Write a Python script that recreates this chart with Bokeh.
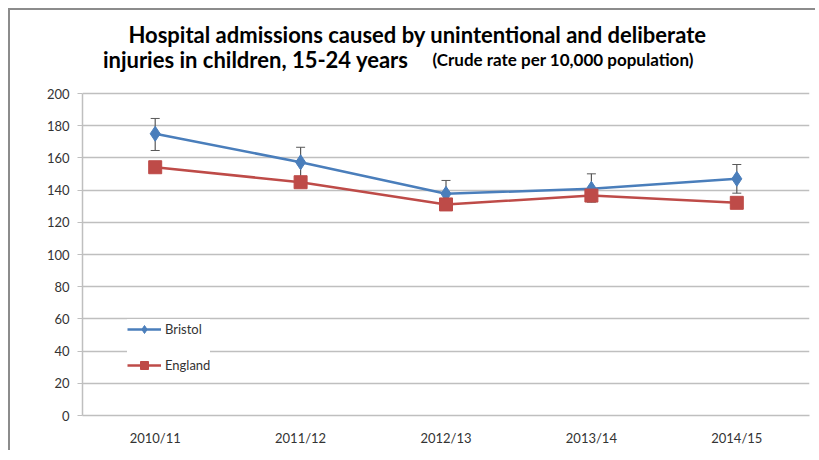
from bokeh.plotting import figure
from bokeh.models import (Range1d, FixedTicker, Label, Legend, LegendItem,
                          ColumnDataSource, Whisker)
from bokeh.embed import file_html
from bokeh.resources import INLINE

categories = ["2010/11", "2011/12", "2012/13", "2013/14", "2014/15"]
bristol = [175.0, 157.3, 137.7, 140.8, 147.0]
bristol_upper = [184.5, 166.6, 146.0, 150.1, 155.9]
bristol_lower = [164.6, 148.0, 129.4, 132.5, 138.1]
england = [154.2, 144.9, 131.1, 136.6, 132.1]
y_ticks = [0, 20, 40, 60, 80, 100, 120, 140, 160, 180, 200]

FONT = "Lato"
BLUE = "#4a7ebb"
RED = "#be4b48"
GRID = "#bfbfbf"
TXT = "#333333"

# frame extends above the 0-200 axis so the title labels can live inside it
p = figure(width=807, height=442, x_range=categories, y_range=Range1d(0, 242.24),
           output_backend="svg", toolbar_location=None,
           min_border_left=72, min_border_right=8, min_border_top=15, min_border_bottom=37)
p.styles = {"border-top": "2px solid #8c8c8c", "border-left": "2px solid #8c8c8c",
            "margin-top": "8px", "margin-left": "8px"}
p.outline_line_color = None
p.background_fill_color = "white"
p.border_fill_color = "white"

p.xaxis.major_tick_line_color = None
p.xaxis.axis_line_color = GRID
p.xaxis.axis_line_width = 1.5
p.xaxis.major_label_standoff = 8
p.xaxis.major_label_text_font = FONT
p.xaxis.major_label_text_font_size = "13px"
p.xaxis.major_label_text_color = TXT

p.yaxis.ticker = FixedTicker(ticks=y_ticks)
p.yaxis.bounds = (y_ticks[0], y_ticks[-1])
p.yaxis.axis_line_color = GRID
p.yaxis.axis_line_width = 1.5
p.yaxis.major_tick_line_color = GRID
p.yaxis.major_tick_in = 0
p.yaxis.major_tick_out = 5
p.yaxis.minor_tick_line_color = None
p.yaxis.major_label_text_font = FONT
p.yaxis.major_label_text_font_size = "13px"
p.yaxis.major_label_text_color = TXT
p.yaxis.major_label_standoff = 8

p.xgrid.grid_line_color = None
p.ygrid.ticker = FixedTicker(ticks=y_ticks)
p.ygrid.grid_line_color = GRID
p.ygrid.grid_line_width = 1.5

src = ColumnDataSource(dict(x=categories, b=bristol, up=bristol_upper, lo=bristol_lower, e=england))

wh = Whisker(source=src, base="x", upper="up", lower="lo", line_color="#595959", line_width=1.2)
wh.upper_head.size = 9
wh.lower_head.size = 9
wh.upper_head.line_color = "#595959"
wh.lower_head.line_color = "#595959"
p.add_layout(wh)

bl = p.line("x", "b", source=src, line_color=BLUE, line_width=2.5)
bm = p.scatter("x", "b", source=src, marker="diamond", size=15, fill_color=BLUE, line_color=BLUE)
el = p.line("x", "e", source=src, line_color=RED, line_width=2.5)
em = p.scatter("x", "e", source=src, marker="square", size=13, fill_color=RED, line_color=RED)

legend = Legend(items=[LegendItem(label="Bristol", renderers=[bl, bm]),
                       LegendItem(label="England", renderers=[el, em])],
                location=(45, 40))
legend.border_line_color = None
legend.background_fill_color = "white"
legend.background_fill_alpha = 1
legend.label_text_font = FONT
legend.label_text_font_size = "13px"
legend.label_text_color = TXT
legend.glyph_width = 34
legend.glyph_height = 20
legend.spacing = 16
legend.padding = 12
legend.label_standoff = 4
p.add_layout(legend, "center")

t1 = Label(x=2.304, y=236.7,
           text="Hospital admissions caused by unintentional and deliberate",
           text_font=FONT, text_font_style="bold", text_font_size="22px", text_align="center",
           text_baseline="alphabetic", text_color="black")
t2 = Label(x=2.242, y=221.1,
           text="injuries in children, 15-24 years",
           text_font=FONT, text_font_style="bold", text_font_size="22px", text_align="right",
           text_baseline="alphabetic", text_color="black")
t3 = Label(x=2.407, y=221.1,
           text="(Crude rate per 10,000 population)",
           text_font=FONT, text_font_style="bold", text_font_size="17px", text_align="left",
           text_baseline="alphabetic", text_color="black")
for t in (t1, t2, t3):
    p.add_layout(t)

open("out.html", "w").write(file_html(p, INLINE))
